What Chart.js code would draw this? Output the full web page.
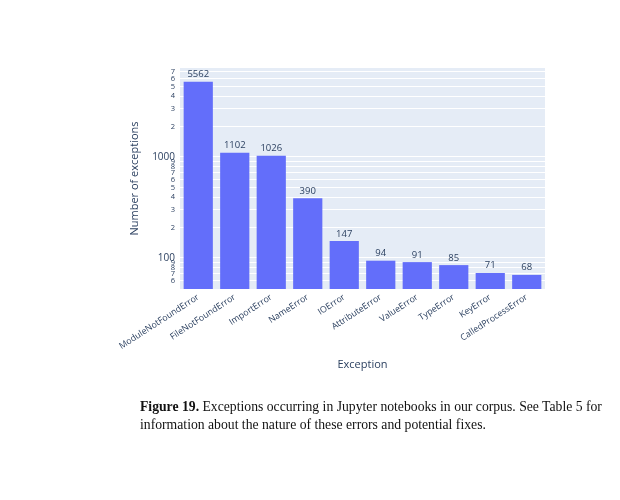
<!DOCTYPE html>
<html>
<head>
<meta charset="utf-8">
<script src="https://cdn.jsdelivr.net/npm/chart.js@4"></script>
<style>
  body { margin: 0; background: #fff; }
  #wrap { position: relative; width: 620px; height: 500px; }
  #caption {
    position: absolute; left: 140px; top: 398px; width: 480px;
    font-family: "Liberation Serif", serif; font-size: 14px; line-height: 18px;
    color: #111; white-space: nowrap;
  }
</style>
</head>
<body>
<div id="wrap">
  <canvas id="chart" width="620" height="500"></canvas>
  <div id="caption"><span id="line1"><b>Figure 19.</b> Exceptions occurring in Jupyter notebooks in our corpus. See Table 5 for</span><br>information about the nature of these errors and potential fixes.</div>
</div>
<script>
// --- DATA ---
const exceptions = ['ModuleNotFoundError', 'FileNotFoundError', 'ImportError', 'NameError', 'IOError',
  'AttributeError', 'ValueError', 'TypeError', 'KeyError', 'CalledProcessError'];
const counts = [5562, 1102, 1026, 390, 147, 94, 91, 85, 71, 68];
const yTicks = [60, 70, 80, 90, 100, 200, 300, 400, 500, 600, 700, 800, 900,
  1000, 2000, 3000, 4000, 5000, 6000, 7000];

const textColor = '#2a3f5f';
const font = '"Open Sans", "DejaVu Sans", sans-serif';

// fit caption's first line to the width seen in the figure
(function fitCaption() {
  const cap = document.getElementById('caption');
  const line = document.getElementById('line1');
  const size = parseFloat(getComputedStyle(cap).fontSize);
  const w = line.getBoundingClientRect().width;
  cap.style.fontSize = (size * 462 / w).toFixed(2) + 'px';
})();

// plotly-style plot background
const plotBg = {
  id: 'plotBg',
  beforeDraw(chart) {
    const { ctx, chartArea: a } = chart;
    ctx.save();
    ctx.fillStyle = '#E5ECF6';
    ctx.fillRect(a.left, a.top, a.right - a.left, a.bottom - a.top);
    ctx.restore();
  }
};

// value labels above each bar
const barLabels = {
  id: 'barLabels',
  afterDatasetsDraw(chart) {
    const { ctx } = chart;
    const meta = chart.getDatasetMeta(0);
    ctx.save();
    ctx.fillStyle = textColor;
    ctx.font = '9.5px ' + font;
    ctx.textAlign = 'center';
    ctx.textBaseline = 'bottom';
    meta.data.forEach((bar, i) => {
      ctx.fillText(String(counts[i]), bar.x, bar.y - 2.5);
    });
    ctx.restore();
  }
};

new Chart(document.getElementById('chart'), {
  type: 'bar',
  data: {
    labels: exceptions,
    datasets: [{
      data: counts,
      backgroundColor: '#636EFA',
      borderWidth: 0,
      categoryPercentage: 0.8,
      barPercentage: 1.0
    }]
  },
  options: {
    responsive: false,
    animation: false,
    layout: { padding: { left: 124, right: 75, top: 68, bottom: 125 } },
    plugins: { legend: { display: false }, tooltip: { enabled: false } },
    scales: {
      x: {
        grid: { display: false, drawTicks: false },
        border: { display: false },
        ticks: {
          color: textColor, font: { family: font, size: 8.8 },
          minRotation: 33, maxRotation: 33, autoSkip: false, padding: 3
        },
        title: { display: true, text: 'Exception', color: textColor, font: { family: font, size: 11 }, padding: 4 },
        afterFit(scale) { scale.height = 86; }
      },
      y: {
        type: 'logarithmic',
        min: 49.3,
        max: 7600,
        grid: { color: '#ffffff', lineWidth: 1, drawTicks: false },
        border: { display: false },
        afterBuildTicks(scale) {
          scale.ticks = yTicks.map(v => ({ value: v }));
        },
        ticks: {
          color: textColor,
          padding: 5,
          autoSkip: false,
          font(c) {
            const v = c.tick ? c.tick.value : 0;
            const major = v === 100 || v === 1000;
            return { family: font, size: major ? 10 : 7.5 };
          },
          callback(v) {
            if (v === 100 || v === 1000) return String(v);
            const m = v / Math.pow(10, Math.floor(Math.log10(v) + 1e-9));
            return String(Math.round(m));
          }
        },
        title: { display: true, text: 'Number of exceptions', color: textColor, font: { family: font, size: 11 }, padding: 4 },
        afterFit(scale) { scale.width = 56; }
      }
    }
  },
  plugins: [plotBg, barLabels]
});
</script>
</body>
</html>
